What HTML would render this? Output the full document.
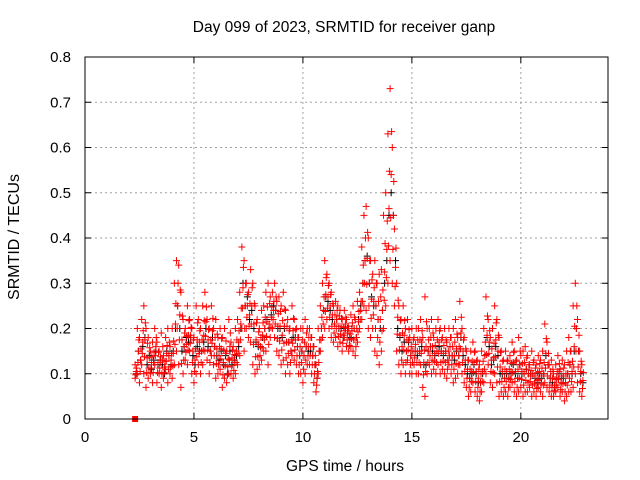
<!DOCTYPE html>
<html><head><meta charset="utf-8"><style>
body{margin:0;background:#fff}
svg{display:block;font-family:"Liberation Sans",sans-serif}
</style></head><body>
<svg id="chart" width="640" height="480" xmlns="http://www.w3.org/2000/svg">
<rect width="640" height="480" fill="#fff"/>
<text x="344" y="32" font-size="15.5" text-anchor="middle">Day 099 of 2023, SRMTID for receiver ganp</text>
<text x="345" y="471" font-size="15.5" text-anchor="middle">GPS time / hours</text>
<text transform="translate(19,237) rotate(-90)" font-size="16" text-anchor="middle">SRMTID / TECUs</text>
<g id="grid"></g><g id="marks"></g>
<rect x="85" y="57" width="523" height="362" fill="none" stroke="#000" stroke-width="1"/>
<g id="ticks"></g>
</svg>
<script>
const xTicks=[0,5,10,15,20];
const yTicks=[0,0.1,0.2,0.3,0.4,0.5,0.6,0.7,0.8];
const yTickLabels=["0","0.1","0.2","0.3","0.4","0.5","0.6","0.7","0.8"];
const tStart=2.3, tStep=0.1;
const redHigh=[.12,.2,.18,.22,.25,.2,.18,.15,.17,.2,
.17,.15,.19,.14,.18,.2,.16,.2,.3,.35,
.34,.28,.22,.2,.25,.22,.2,.18,.25,.22,
.2,.25,.28,.22,.2,.25,.2,.22,.18,.2,
.18,.2,.15,.22,.17,.16,.2,.22,.28,.38,
.35,.3,.28,.33,.3,.25,.22,.2,.24,.25,
.28,.3,.27,.28,.3,.26,.27,.25,.28,.24,
.22,.2,.25,.22,.2,.18,.2,.2,.22,.2,
.2,.18,.16,.12,.2,.25,.3,.35,.32,.3,
.28,.25,.26,.25,.24,.22,.24,.22,.2,.23,
.25,.22,.26,.28,.38,.45,.47,.4,.35,.32,
.35,.3,.32,.33,.45,.5,.63,.73,.6,.42,
.3,.25,.22,.25,.2,.22,.18,.2,.18,.2,
.2,.22,.18,.27,.2,.2,.22,.18,.2,.22,
.2,.18,.2,.17,.2,.18,.2,.22,.18,.26,
.2,.18,.15,.13,.15,.17,.15,.13,.12,.15,
.2,.27,.22,.18,.2,.25,.22,.18,.15,.13,
.15,.13,.14,.17,.15,.13,.18,.14,.15,.16,
.14,.12,.15,.13,.12,.14,.13,.15,.21,.17,
.12,.13,.1,.12,.14,.11,.13,.12,.15,.18,
.15,.25,.3,.22,.15,.12];
const redLow=[.09,.1,.08,.12,.1,.07,.09,.1,.08,.12,
.08,.1,.07,.09,.11,.08,.1,.09,.12,.15,
.12,.07,.1,.13,.12,.15,.1,.08,.1,.12,
.1,.12,.15,.13,.1,.14,.12,.09,.1,.11,
.07,.09,.08,.1,.1,.09,.1,.12,.14,.2,
.15,.2,.18,.17,.12,.1,.11,.12,.13,.15,
.15,.12,.18,.2,.18,.15,.14,.12,.13,.1,
.12,.1,.14,.13,.12,.1,.1,.08,.1,.12,
.12,.1,.08,.06,.1,.15,.18,.2,.22,.2,
.18,.17,.18,.16,.17,.15,.18,.16,.15,.16,
.15,.14,.17,.2,.22,.25,.24,.2,.18,.2,
.15,.14,.12,.15,.2,.25,.3,.35,.3,.25,
.15,.12,.1,.12,.1,.13,.1,.1,.12,.1,
.1,.12,.07,.05,.1,.12,.1,.11,.1,.12,
.1,.11,.1,.09,.12,.1,.08,.09,.1,.12,
.1,.08,.07,.05,.06,.08,.06,.05,.04,.06,
.08,.1,.12,.08,.07,.1,.08,.05,.06,.05,
.06,.05,.07,.08,.06,.05,.06,.07,.05,.06,
.06,.07,.05,.06,.05,.07,.06,.05,.08,.07,
.06,.05,.05,.06,.07,.05,.06,.04,.05,.06,
.06,.07,.1,.08,.06,.05];
const blackMid=[.1,.15,.13,.16,.18,.12,.14,.11,.13,.15,
.12,.13,.12,.1,.15,.14,.12,.15,.2,.25,
.2,.15,.16,.18,.17,.18,.14,.12,.16,.15,
.15,.17,.2,.16,.15,.18,.16,.14,.13,.15,
.12,.14,.1,.15,.12,.13,.14,.16,.2,.3,
.25,.27,.22,.24,.2,.17,.16,.16,.18,.2,
.22,.2,.23,.25,.24,.2,.2,.18,.2,.17,
.17,.15,.18,.18,.16,.14,.15,.14,.16,.15,
.15,.14,.12,.09,.15,.2,.24,.27,.26,.24,
.22,.21,.22,.2,.2,.18,.2,.2,.18,.2,
.2,.18,.22,.25,.3,.35,.36,.3,.27,.25,
.25,.22,.2,.24,.3,.35,.45,.5,.45,.35,
.2,.18,.15,.17,.15,.17,.14,.15,.15,.14,
.15,.16,.12,.12,.15,.16,.15,.14,.15,.16,
.15,.14,.15,.13,.16,.14,.13,.15,.14,.18,
.14,.12,.1,.09,.1,.12,.1,.08,.08,.1,
.14,.18,.16,.12,.13,.16,.14,.1,.1,.09,
.1,.09,.1,.12,.1,.09,.12,.1,.1,.11,
.1,.1,.1,.09,.08,.1,.09,.1,.14,.12,
.09,.08,.07,.09,.1,.08,.09,.08,.1,.12,
.1,.15,.2,.15,.1,.08];
const zeroPoint=[2.3,0];

const X0=85,X1=608,Y0=419,Y1=57;
const xs=t=>X0+(t/24)*(X1-X0);
const ys=v=>Y0-(v/0.8)*(Y0-Y1);
const NS="http://www.w3.org/2000/svg";
function mk(tag,attrs,parent){const e=document.createElementNS(NS,tag);for(const k in attrs)e.setAttribute(k,attrs[k]);parent.appendChild(e);return e;}
const grid=document.getElementById('grid'),ticks=document.getElementById('ticks'),marks=document.getElementById('marks');
xTicks.forEach(t=>{const x=xs(t);
 if(t>0){const g=mk('line',{x1:x,x2:x,y1:Y1,y2:Y0,stroke:'#a0a0a0','stroke-dasharray':'2,3'},grid);
 
 }
 mk('line',{x1:x,x2:x,y1:Y0,y2:Y0-6,stroke:'#000'},ticks);
 mk('line',{x1:x,x2:x,y1:Y1,y2:Y1+6,stroke:'#000'},ticks);
 const l=mk('text',{x:x,y:Y0+23,'font-size':15,'text-anchor':'middle'},ticks);l.textContent=t;
 
 
});
yTicks.forEach((v,i)=>{const y=ys(v);
 if(v>0&&v<0.8){const g=mk('line',{x1:X0,x2:X1,y1:y,y2:y,stroke:'#a0a0a0','stroke-dasharray':'2,3'},grid);
 
 }
 mk('line',{x1:X0,x2:X0+6,y1:y,y2:y,stroke:'#000'},ticks);
 mk('line',{x1:X1,x2:X1-6,y1:y,y2:y,stroke:'#000'},ticks);
 const l=mk('text',{x:X0-14,y:y+5,'font-size':15,'text-anchor':'end'},ticks);l.textContent=yTickLabels[i];
 
 
});
function plus(t,v,color,name){const x=xs(t),y=ys(v);
 const p=mk('path',{d:`M${x-3.5},${y}H${x+3.5}M${x},${y-3.5}V${y+3.5}`,stroke:color,'stroke-width':1,fill:'none'},marks);
 
 
}
blackMid.forEach((v,i)=>plus(tStart+i*tStep+0.05,v,'#000','black-point'));
redHigh.forEach((v,i)=>plus(tStart+i*tStep,v,'#ff0000','red-point'));
redLow.forEach((v,i)=>plus(tStart+i*tStep,v,'#ff0000','red-point'));
redLow.forEach((v,i)=>plus(tStart+i*tStep+0.05,(v+redHigh[i])/2,'#ff0000','red-point'));
redLow.forEach((v,i)=>plus(tStart+i*tStep+0.03,(v*3+redHigh[i])/4,'#ff0000','red-point'));
redLow.forEach((v,i)=>plus(tStart+i*tStep+0.07,(v+redHigh[i]*3)/4,'#ff0000','red-point'));
const z=mk('rect',{x:xs(zeroPoint[0])-3,y:ys(zeroPoint[1])-3,width:6,height:6,fill:'#ff0000'},marks);


</script>
</body></html>
